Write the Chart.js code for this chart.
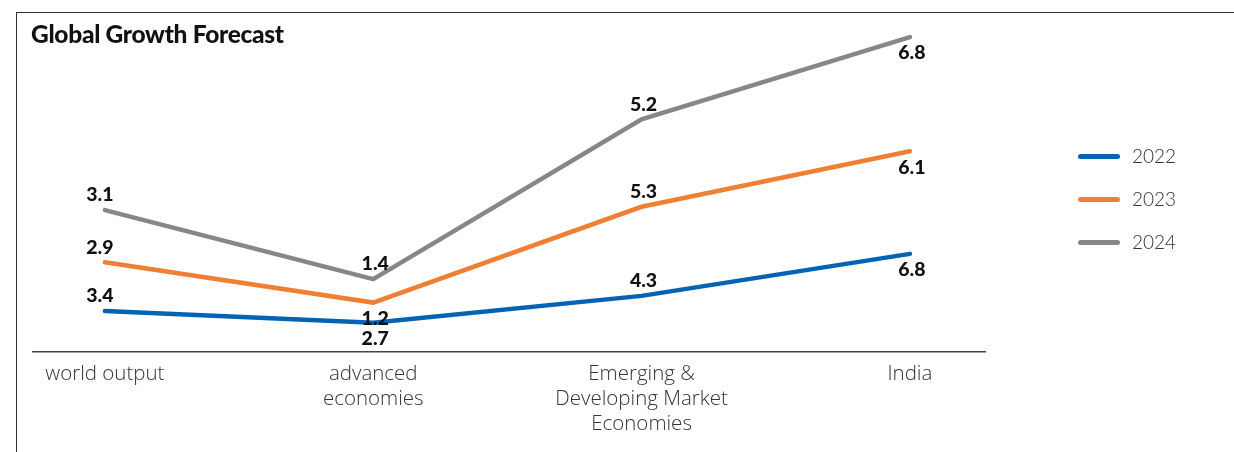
<!DOCTYPE html>
<html>
<head>
<meta charset="utf-8">
<script src="https://cdn.jsdelivr.net/npm/chart.js@4"></script>
<style>
	html, body { margin: 0; padding: 0; background: #fff; }
	#wrap { position: relative; width: 1234px; height: 452px; overflow: hidden; font-family: Lato, "Noto Sans", sans-serif; }
	#frame { position: absolute; left: 16px; top: 12px; right: -2px; bottom: -2px; border-top: 1.5px solid #333; border-left: 1.5px solid #333; }
	#title { position: absolute; left: 31px; top: 19px; font-size: 24.5px; font-weight: 900; color: #111; letter-spacing: -0.3px; }
	#chart { position: absolute; left: 0; top: 0; }
	#legend { position: absolute; left: 1078px; top: 144px; }
	.item { height: 43px; display: flex; align-items: flex-start; }
	.swatch { width: 42px; height: 5px; border-radius: 3px; margin-top: 10px; margin-right: 12px; }
	.item span { font-size: 19px; font-weight: 300; color: #333; line-height: 24px; }
</style>
</head>
<body>
<div id="wrap">
	<div id="frame"></div>
	<canvas id="chart" width="1234" height="452"></canvas>
	<div id="title">Global Growth Forecast</div>
	<div id="legend"></div>
</div>
<script>
// categories (multi-line labels as in the original)
const categories = [
	[ 'world output' ],
	[ 'advanced', 'economies' ],
	[ 'Emerging &', 'Developing Market', 'Economies' ],
	[ 'India' ]
];
const years = [ '2022', '2023', '2024' ];

// growth values per year (lines are stacked in the original chart)
const growth2022 = [ 3.4, 2.7, 4.3, 6.8 ];
const growth2023 = [ 2.9, 1.2, 5.3, 6.1 ];
const growth2024 = [ 3.1, 1.4, 5.2, 6.8 ];

const colors = [ '#0563b4', '#ef7f32', '#87878a' ];
// where each value label sits relative to its point
const labelPos = [
	[ 'above', 'below', 'above', 'below' ],
	[ 'above', 'below', 'above', 'below' ],
	[ 'above', 'above', 'above', 'below' ]
];

const series = [ growth2022, growth2023, growth2024 ];

const valueLabels = {
	id: 'valueLabels',
	afterDatasetsDraw( chart ) {
		const ctx = chart.ctx;
		ctx.save();
		ctx.font = '900 19.5px Lato, "Noto Sans", sans-serif';
		ctx.fillStyle = '#111';
		ctx.textAlign = 'center';
		ctx.textBaseline = 'middle';
		chart.data.datasets.forEach( ( ds, i ) => {
			const meta = chart.getDatasetMeta( i );
			meta.data.forEach( ( pt, j ) => {
				const dy = labelPos[ i ][ j ] === 'above' ? -15 : 16;
				const dx = j === 0 ? -5 : 2;
				ctx.fillText( series[ i ][ j ].toFixed( 1 ), pt.x + dx, pt.y + dy );
			} );
		} );
		ctx.restore();
	}
};

new Chart( document.getElementById( 'chart' ), {
	type: 'line',
	data: {
		datasets: series.map( ( vals, i ) => ( {
			label: years[ i ],
			data: vals.map( ( v, j ) => ( { x: j, y: v } ) ),
			borderColor: colors[ i ],
			backgroundColor: colors[ i ],
			borderWidth: 4.5,
			borderCapStyle: 'round',
			pointRadius: 0,
			tension: 0,
			fill: false
		} ) )
	},
	options: {
		responsive: false,
		animation: false,
		layout: { padding: { left: 33, right: 249, top: 32, bottom: 0 } },
		plugins: { legend: { display: false }, tooltip: { enabled: false } },
		scales: {
			x: {
				type: 'linear',
				min: -0.268,
				max: 3.28,
				afterBuildTicks: ( axis ) => {
					axis.ticks = categories.map( ( c, i ) => ( { value: i } ) );
				},
				afterFit: ( axis ) => {
					axis.height = 100;
				},
				grid: { display: false, drawTicks: false },
				border: { display: true, color: '#444', width: 1.5 },
				ticks: {
					autoSkip: false,
					maxRotation: 0,
					padding: 10,
					color: '#333',
					font: { family: '"Open Sans", Lato, sans-serif', size: 20.5, weight: 300, lineHeight: 1.22 },
					callback: ( v ) => categories[ v ]
				}
			},
			y: {
				display: false,
				stacked: true,
				min: 0.96,
				max: 20
			}
		}
	},
	plugins: [ valueLabels ]
} );

// legend
const legend = document.getElementById( 'legend' );
years.forEach( ( y, i ) => {
	const item = document.createElement( 'div' );
	item.className = 'item';
	item.innerHTML = '<div class="swatch" style="background:' + colors[ i ] + '"></div><span>' + y + '</span>';
	legend.appendChild( item );
} );
</script>
</body>
</html>
